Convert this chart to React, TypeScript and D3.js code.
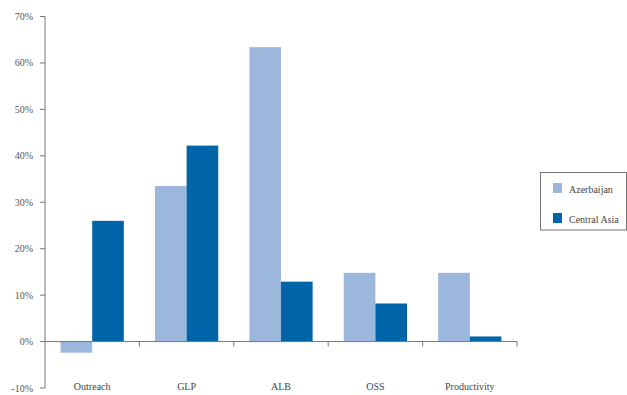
import React from "react";
import * as d3 from "d3";

const categories = ["Outreach", "GLP", "ALB", "OSS", "Productivity"];
const seriesNames = ["Azerbaijan", "Central Asia"];
const azerbaijan = [-2.4, 33.5, 63.4, 14.8, 14.8];
const centralAsia = [26.0, 42.2, 12.9, 8.2, 1.1];
const yTicks = [-10, 0, 10, 20, 30, 40, 50, 60, 70];

const colors = ["#9bb8dc", "#0064a8"];
const font = "'Liberation Serif', 'DejaVu Serif', serif";

export default function App() {
  const width = 627;
  const height = 395;
  const left = 45;
  const right = 517;
  const top = 16.5;
  const bottom = 388;

  const x = d3.scaleBand<string>().domain(categories).range([left, right]).paddingInner(0.33).paddingOuter(0.165);
  const x1 = d3.scaleBand<string>().domain(seriesNames).range([0, x.bandwidth()]);
  const y = d3.scaleLinear().domain([-10, 70]).range([bottom, top]);
  const step = (right - left) / categories.length;
  const values = [azerbaijan, centralAsia];

  return (
    <svg width={width} height={height} style={{ position: "absolute", left: 0, top: 0, background: "#fff" }}>
      {values.map((vals, si) =>
        categories.map((c, i) => {
          const v = vals[i];
          const y0 = y(0);
          const yv = y(v);
          return (
            <rect
              key={`${si}-${c}`}
              x={(x(c) as number) + (x1(seriesNames[si]) as number)}
              y={Math.min(y0, yv)}
              width={x1.bandwidth()}
              height={Math.abs(yv - y0)}
              fill={colors[si]}
            />
          );
        })
      )}
      {/* y axis */}
      <line x1={left} x2={left} y1={y(70)} y2={y(-10)} stroke="#777" strokeWidth={1} />
      {yTicks.map((t) => (
        <g key={t}>
          <line x1={left - 5} x2={left} y1={y(t)} y2={y(t)} stroke="#777" />
          <text
            x={left - 12}
            y={y(t)}
            dy="0.35em"
            textAnchor="end"
            fontFamily={font}
            fontSize={10}
            fill="#555"
          >
            {`${t}%`}
          </text>
        </g>
      ))}
      {/* x axis at zero */}
      <line x1={left} x2={right} y1={y(0)} y2={y(0)} stroke="#777" />
      {categories.map((c, i) => (
        <line
          key={`t-${c}`}
          x1={left + step * (i + 1)}
          x2={left + step * (i + 1)}
          y1={y(0)}
          y2={y(0) + 5}
          stroke="#777"
        />
      ))}
      {categories.map((c) => (
        <text
          key={`l-${c}`}
          x={(x(c) as number) + x.bandwidth() / 2}
          y={390}
          textAnchor="middle"
          fontFamily={font}
          fontSize={10}
          fill="#444"
        >
          {c}
        </text>
      ))}
      {/* legend */}
      <rect x={540.5} y={172.5} width={86} height={57.5} fill="none" stroke="#777" />
      {seriesNames.map((s, i) => (
        <g key={s} transform={`translate(553, ${183 + i * 30})`}>
          <rect width={9} height={10} fill={colors[i]} />
          <text x={16} y={9.5} fontFamily={font} fontSize={10} fill="#444">
            {s}
          </text>
        </g>
      ))}
    </svg>
  );
}
